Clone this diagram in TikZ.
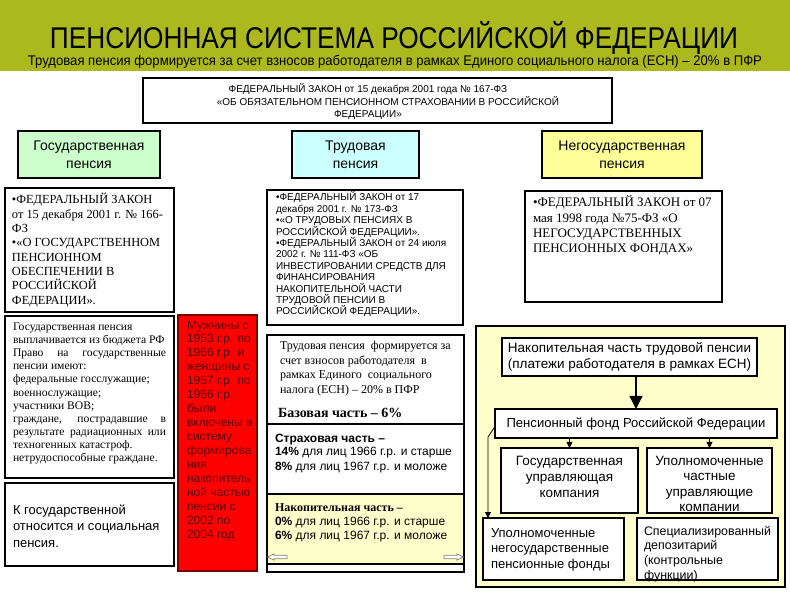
\documentclass[tikz,border=0pt]{standalone}
\usepackage{graphicx}
\usepackage{fontspec}
\setmainfont{Liberation Serif}
\setsansfont{Liberation Sans}
\usetikzlibrary{arrows.meta,calc}
\newcommand\fs[2]{\fontsize{#1}{#2}\selectfont}
\definecolor{band}{RGB}{172,185,28}
\definecolor{hgreen}{RGB}{204,255,204}
\definecolor{hcyan}{RGB}{204,255,255}
\definecolor{hyellow}{RGB}{255,255,153}
\definecolor{lyellow}{RGB}{255,255,204}
\definecolor{redtext}{RGB}{90,0,0}
\definecolor{redborder}{RGB}{120,0,0}
\newcommand\bx[6][]{\node[box,#1,minimum width={(#5-#3)*1pt},minimum height={(#6-#4)*1pt}] (#2) at (#3,#4) {};}
\begin{document}
\begin{tikzpicture}[x=1pt,y=-1pt,
  box/.style={draw=black, line width=1.2pt, inner sep=0pt, outer sep=0pt, anchor=north west, fill=white},
  tx/.style={inner sep=0pt, outer sep=0pt, anchor=base west, align=left},
  hdr/.style={inner sep=0pt, align=center, font=\sffamily\fs{14}{18}},
  ctr/.style={inner sep=0pt, align=center, font=\sffamily\fs{13.5}{16}},
  sarr/.style={-{Triangle[width=6pt,length=6pt]}, line width=0.8pt},
  barr/.style={-{Triangle[width=13pt,length=13pt]}, line width=1.3pt},
  blockarrow/.style={draw=gray, fill=white, line width=0.7pt}
]
\useasboundingbox (0,0) rectangle (790,593);
\fill[white] (0,0) rectangle (790,593);
\fill[band] (0,0) rectangle (790,71);
\node[font=\sffamily\fs{30}{30}, inner sep=0pt] (title) at (394,38)
  {\resizebox{688pt}{\height}{ПЕНСИОННАЯ СИСТЕМА РОССИЙСКОЙ ФЕДЕРАЦИИ}};
\node[font=\sffamily\fs{14}{14}, inner sep=0pt] (subtitle) at (395,62)
  {\resizebox{734pt}{\height}{Трудовая пенсия формируется за счет взносов работодателя в рамках Единого социального налога (ЕСН) – 20\% в ПФР}};

% top law (base = last line)
\bx{law}{143}{78}{612}{123}
\node[font=\sffamily\fs{10}{12.5}, align=center, anchor=base, inner sep=0pt] (lawt) at (368,118)
  {ФЕДЕРАЛЬНЫЙ ЗАКОН от 15 декабря 2001 года № 167-ФЗ\\\hspace*{40pt}«ОБ ОБЯЗАТЕЛЬНОМ ПЕНСИОННОМ СТРАХОВАНИИ В РОССИЙСКОЙ\\ФЕДЕРАЦИИ»};

% headers
\bx[fill=hgreen]{hg}{18}{131}{160}{178}
\node[hdr] (hgt) at (hg.center) {Государственная\\пенсия};
\bx[fill=hcyan]{hc}{292}{131}{419}{178}
\node[hdr] (hct) at (hc.center) {Трудовая\\пенсия};
\bx[fill=hyellow]{hy}{542}{131}{702}{178}
\node[hdr] (hyt) at (hy.center) {Негосударственная\\пенсия};

% left column
\bx{l1}{5}{188}{174}{312}
\node[tx, font=\fs{12.4}{14.3}] (l1t) at (12,304.1)
  {•ФЕДЕРАЛЬНЫЙ ЗАКОН\\от 15 декабря 2001 г. № 166-\\ФЗ\\•«О ГОСУДАРСТВЕННОМ\\ПЕНСИОННОМ\\ОБЕСПЕЧЕНИИ В\\РОССИЙСКОЙ\\ФЕДЕРАЦИИ».};
\bx{l2}{5}{316}{174}{478}
\node[tx, font=\fs{11.6}{13.1}] (l2t) at (13,461.5)
  {Государственная пенсия\\выплачивается из бюджета РФ\\\makebox[153pt][s]{Право на государственные}\\пенсии имеют:\\федеральные госслужащие;\\военнослужащие;\\участники ВОВ;\\\makebox[153pt][s]{граждане, пострадавшие в}\\\makebox[153pt][s]{результате радиационных или}\\техногенных катастроф.\\нетрудоспособные граждане.};
\bx{l3}{5}{483}{174}{566}
\node[tx, font=\sffamily\fs{13}{16.5}] (l3t) at (13,547)
  {К государственной\\относится и социальная\\пенсия.};

% red box
\bx[fill=red, draw=redborder]{red}{178}{315}{257}{571}
\node[tx, font=\sffamily\fs{12}{13.95}, text=redtext] (redt) at (187,538.25)
  {Мужчины с\\1953 г.р. по\\1966 г.р. и\\женщины с\\1957 г.р. по\\1966 г.р.\\были\\включены в\\систему\\формирова\\ния\\накопитель\\ной частью\\пенсии с\\2002 по\\2004 год};

% middle column
\bx{m1}{267}{190}{463}{325}
\node[tx, font=\sffamily\fs{10}{11.4}] (m1t) at (276,315)
  {•ФЕДЕРАЛЬНЫЙ ЗАКОН от 17\\декабря 2001 г. № 173-ФЗ\\•«О ТРУДОВЫХ ПЕНСИЯХ В\\РОССИЙСКОЙ ФЕДЕРАЦИИ».\\•ФЕДЕРАЛЬНЫЙ ЗАКОН от 24 июля\\2002 г. № 111-ФЗ «ОБ\\ИНВЕСТИРОВАНИИ СРЕДСТВ ДЛЯ\\ФИНАНСИРОВАНИЯ\\НАКОПИТЕЛЬНОЙ ЧАСТИ\\ТРУДОВОЙ ПЕНСИИ В\\РОССИЙСКОЙ ФЕДЕРАЦИИ».};
\bx{m2}{267}{335}{464}{424}
\node[tx, font=\fs{12}{14.4}] (m2t) at (280,393.2)
  {Трудовая пенсия \ формируется за\\счет взносов работодателя \ в\\рамках Единого \ социального\\налога (ЕСН) – 20\% в ПФР};
\node[tx, font=\bfseries\fs{14}{14}] (m2b) at (278,417.5) {Базовая часть – 6\%};
\bx{m3}{267}{424}{464}{494}
\node[tx, font=\sffamily\fs{12}{14}] (m3t) at (275,470)
  {\textbf{Страховая часть –}\\\textbf{14\%} для лиц 1966 г.р. и старше\\\textbf{8\%} для лиц 1967 г.р. и моложе};
\bx[fill=lyellow]{m4}{267}{494}{464}{564}
\node[tx, font=\sffamily\fs{12}{14}] (m4t) at (275,539)
  {{\rmfamily\bfseries Накопительная часть –}\\\textbf{0\%} для лиц 1966 г.р. и старше\\\textbf{6\%} для лиц 1967 г.р. и моложе};
\bx{m5}{267}{564}{464}{572}
\draw[blockarrow] (267.5,557) -- (274,553.8) -- (274,555.3) -- (287,555.3) -- (287,558.7) -- (274,558.7) -- (274,560.2) -- cycle;
\draw[blockarrow] (463.5,557) -- (457,553.8) -- (457,555.3) -- (444,555.3) -- (444,558.7) -- (457,558.7) -- (457,560.2) -- cycle;

% right column
\bx{r1}{525}{191}{722}{302}
\node[tx, font=\fs{13}{15.2}] (r1t) at (533,252.6)
  {•ФЕДЕРАЛЬНЫЙ ЗАКОН от 07\\мая 1998 года №75-ФЗ «О\\НЕГОСУДАРСТВЕННЫХ\\ПЕНСИОННЫХ ФОНДАХ»};
\bx[fill=lyellow]{rb}{476}{326}{785}{587}
\bx{acc}{502}{338}{757}{376}
\node[ctr] (acct) at (acc.center) {Накопительная часть трудовой пенсии\\(платежи работодателя в рамках ЕСН)};
\bx{pfr}{495}{409}{777}{438}
\node[ctr, font=\sffamily\fs{13.1}{16}] (pfrt) at (pfr.center) {Пенсионный фонд Российской Федерации};
\bx{guk}{501}{448}{638}{513}
\node[ctr] (gukt) at (569.5,477) {Государственная\\управляющая\\компания};
\bx{puk}{647}{448}{772}{513}
\node[ctr, font=\sffamily\fs{13.5}{15.6}] (pukt) at (709.5,484) {Уполномоченные\\частные\\управляющие\\компании};
\bx{npf}{483}{518}{624}{580}
\node[tx, font=\sffamily\fs{13}{15.5}] (npft) at (491,568) {Уполномоченные\\негосударственные\\пенсионные фонды};
\bx{dep}{637}{518}{778}{580}
\node[tx, font=\sffamily\fs{12.4}{14.7}] (dept) at (644,579.1) {Специализированный\\депозитарий\\(контрольные\\функции)};

\draw[barr] (acc.south -| pfr.north) -- (pfr.north);
\draw[sarr] (pfr.south -| guk.north) -- (guk.north);
\draw[sarr] (pfr.south -| puk.north) -- (puk.north);
\coordinate (bstart) at (494,428);
\coordinate (bend) at (488,437);
\draw[sarr] (bstart) -- (bend) -- (bend |- npf.north);
\end{tikzpicture}
\end{document}
